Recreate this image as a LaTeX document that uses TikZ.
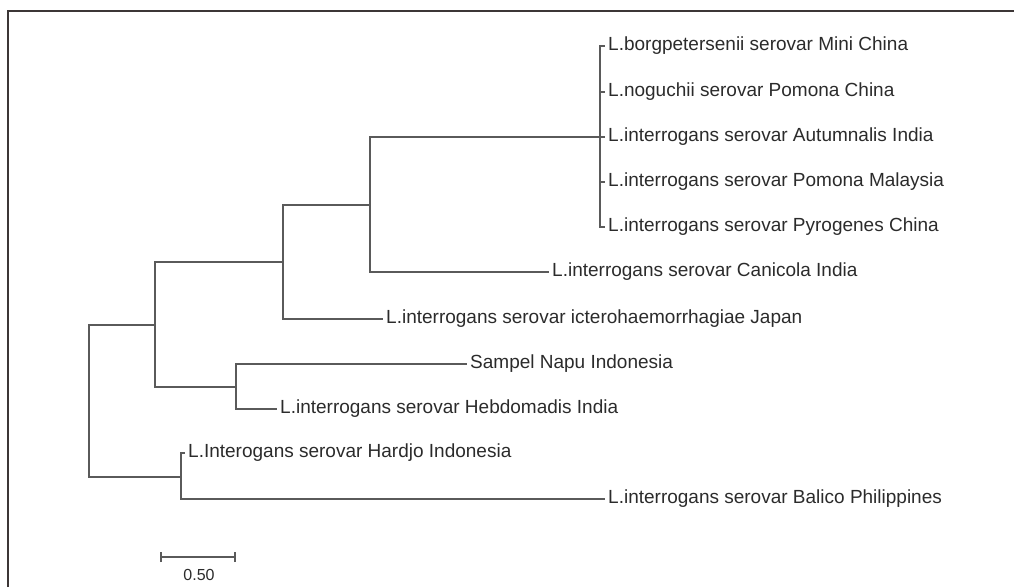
\documentclass[tikz,border=0pt]{standalone}
\usepackage{fontspec}
\setmainfont{Liberation Sans}
\usepackage{tikz}
\usetikzlibrary{positioning}

\definecolor{branchgray}{HTML}{5A5A5A}
\definecolor{labelgray}{HTML}{2B2B2B}
\definecolor{framegray}{HTML}{3C3636}

\tikzset{
  branch/.style={draw=branchgray, line width=1.6pt},
  taxon/.style={anchor=west, inner sep=3pt, text height=13pt, text depth=4pt,
    text=labelgray, font=\fontsize{19}{21}\selectfont},
  scalelabel/.style={inner sep=1pt, text=labelgray, font=\fontsize{16}{18}\selectfont},
}

\begin{document}
\begin{tikzpicture}[x=1pt,y=-1pt]
  \useasboundingbox (0,0) rectangle (1014,587);
  \draw[framegray, line width=2.5pt] (8,587) -- (8,11) -- (1014,11);

  % inner nodes of the tree
  \coordinate (R) at (89,401);
  \coordinate (B) at (155,325);
  \coordinate (E) at (181,477);
  \coordinate (C) at (283,262);
  \coordinate (D) at (236,387);
  \coordinate (A) at (370,205);
  \coordinate (K) at (600,137);

  % taxa
  \node[taxon] (mini) at (605,46)  {L.borgpetersenii serovar Mini China};
  \node[taxon] (nogu) at (605,92)  {L.noguchii serovar Pomona China};
  \node[taxon] (autu) at (605,137) {L.interrogans serovar Autumnalis India};
  \node[taxon] (pmal) at (605,182) {L.interrogans serovar Pomona Malaysia};
  \node[taxon] (pyro) at (605,227) {L.interrogans serovar Pyrogenes China};
  \node[taxon] (cani) at (549,272) {L.interrogans serovar Canicola India};
  \node[taxon] (icte) at (383,319) {L.interrogans serovar icterohaemorrhagiae Japan};
  \node[taxon] (napu) at (467,364) {Sampel Napu Indonesia};
  \node[taxon] (hebd) at (277,409) {L.interrogans serovar Hebdomadis India};
  \node[taxon] (hard) at (185,453) {L.Interogans serovar Hardjo Indonesia};
  \node[taxon] (bali) at (605,499) {L.interrogans serovar Balico Philippines};

  \draw[branch] (R) |- (B);
  \draw[branch] (R) |- (E);
  \draw[branch] (B) |- (C);
  \draw[branch] (B) |- (D);
  \draw[branch] (C) |- (A);
  \draw[branch] (C) |- (icte.west);
  \draw[branch] (A) |- (K);
  \draw[branch] (A) |- (cani.west);
  \foreach \t in {mini,nogu,autu,pmal,pyro}
    \draw[branch] (K) |- (\t.west);
  \draw[branch] (D) |- (napu.west);
  \draw[branch] (D) |- (hebd.west);
  \draw[branch] (E) |- (hard.west);
  \draw[branch] (E) |- (bali.west);

  % scale bar
  \coordinate (sbl) at (161,557);
  \coordinate (sbr) at (235,557);
  \draw[branch] (sbl) -- (sbr);
  \draw[branch] ([yshift=-5pt]sbl) -- ([yshift=5pt]sbl);
  \draw[branch] ([yshift=-5pt]sbr) -- ([yshift=5pt]sbr);
  \node[scalelabel] (sblab) at (199,575) {0.50};
\end{tikzpicture}
\end{document}
